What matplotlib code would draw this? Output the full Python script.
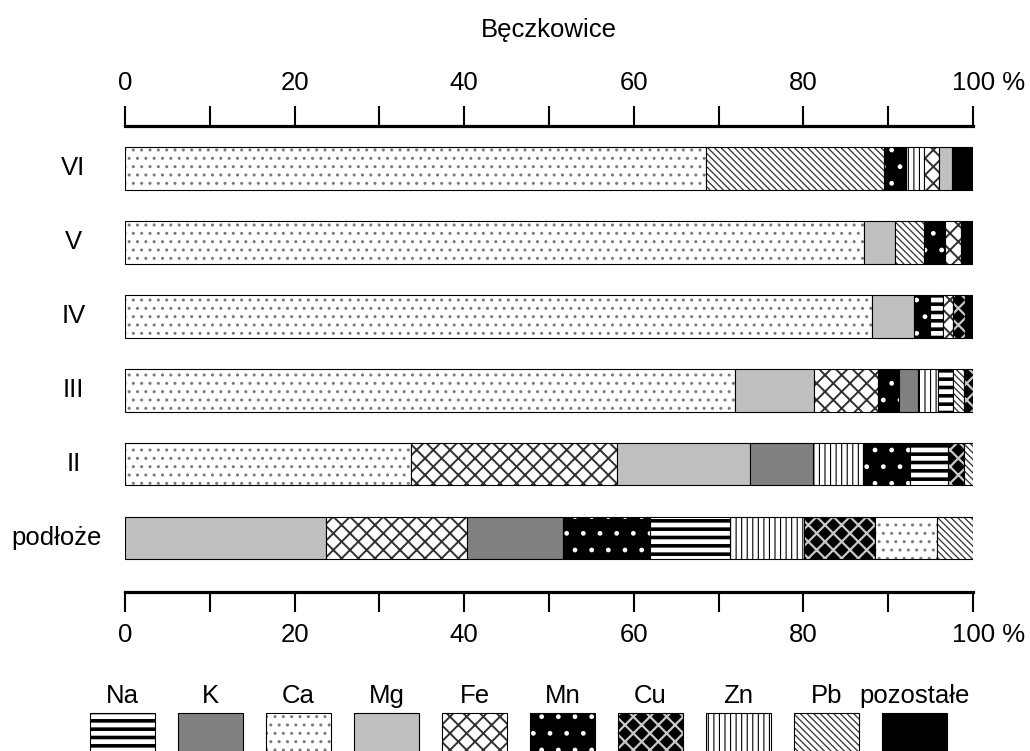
import matplotlib
matplotlib.use("Agg")
import matplotlib.pyplot as plt
import matplotlib.transforms as mtransforms
from matplotlib.patches import Rectangle

plt.rcParams['font.family'] = ['Liberation Sans', 'DejaVu Sans']
plt.rcParams['hatch.linewidth'] = 1.2

# data (percent shares, left to right in each bar)
rows = ["VI", "V", "IV", "III", "II", "podłoże"]

vi_elements = ["Ca", "Pb", "Mn", "Zn", "Fe", "Mg", "pozostałe"]
vi_values = [68.5, 21.0, 2.6, 2.1, 1.8, 1.5, 2.5]

v_elements = ["Ca", "Mg", "Pb", "Mn", "Fe", "pozostałe"]
v_values = [87.1, 3.7, 3.4, 2.5, 1.9, 1.4]

iv_elements = ["Ca", "Mg", "Mn", "Na", "Fe", "Cu", "pozostałe"]
iv_values = [88.1, 4.9, 1.9, 1.6, 1.2, 1.3, 1.0]

iii_elements = ["Ca", "Mg", "Fe", "Mn", "K", "Zn", "Na", "Pb", "Cu"]
iii_values = [71.9, 9.4, 7.5, 2.5, 2.2, 2.4, 1.7, 1.3, 1.1]

ii_elements = ["Ca", "Fe", "Mg", "K", "Zn", "Mn", "Na", "Cu", "Pb"]
ii_values = [33.7, 24.3, 15.7, 7.4, 5.9, 5.6, 4.4, 1.9, 1.1]

base_elements = ["Mg", "Fe", "K", "Mn", "Na", "Zn", "Cu", "Ca", "Pb"]
base_values = [23.7, 16.6, 11.3, 10.3, 9.4, 8.8, 8.3, 7.3, 4.3]

legend_order = ["Na", "K", "Ca", "Mg", "Fe", "Mn", "Cu", "Zn", "Pb", "pozostałe"]

row_elements = [vi_elements, v_elements, iv_elements, iii_elements, ii_elements, base_elements]
row_values = [vi_values, v_values, iv_values, iii_values, ii_values, base_values]

# fill styles: face colour, hatch, hatch colour, hatch line width
styles = {
    "Na": ("white", "--", "black", 2.6),
    "K": ("#808080", None, None, 0),
    "Ca": ("white", "..", "#7a7a7a", 1.0),
    "Mg": ("#c0c0c0", None, None, 0),
    "Fe": ("white", "xx", "#303030", 1.4),
    "Mn": ("black", ".", "white", 1.0),
    "Cu": ("black", "xx", "#c8c8c8", 1.6),
    "Zn": ("white", "|||", "black", 0.8),
    "Pb": ("white", "\\\\\\\\\\", "#303030", 0.9),
    "pozostałe": ("black", None, None, 0),
}

FS = 18.5


def set_hlw(artist, lw):
    if hasattr(artist, "set_hatch_linewidth"):
        artist.set_hatch_linewidth(lw)


def draw_barh(ax, y, width, left, height, name):
    face, hatch, hcolor, hlw = styles[name]
    ax.barh(y, width, left=left, height=height, color=face, edgecolor="none", linewidth=0)
    if hatch:
        hb = ax.barh(y, width, left=left, height=height, color="none",
                     edgecolor=hcolor, hatch=hatch, linewidth=0)
        for p in hb:
            set_hlw(p, hlw)
    ax.barh(y, width, left=left, height=height, fill=False, edgecolor="black", linewidth=0.8)


def draw_box(ax, x, y, w, h, name):
    face, hatch, hcolor, hlw = styles[name]
    ax.add_patch(Rectangle((x, y), w, h, facecolor=face, edgecolor="none", linewidth=0))
    if hatch:
        r = Rectangle((x, y), w, h, facecolor="none", edgecolor=hcolor, hatch=hatch, linewidth=0)
        set_hlw(r, hlw)
        ax.add_patch(r)
    ax.add_patch(Rectangle((x, y), w, h, fill=False, edgecolor="black", linewidth=0.8))


fig = plt.figure(figsize=(10.30, 7.51), dpi=100)
ax = fig.add_axes([125 / 1030, 1 - 592 / 751, 848 / 1030, 466 / 751])

for i, (elems, vals) in enumerate(zip(row_elements, row_values)):
    left = 0.0
    for name, val in zip(elems, vals):
        draw_barh(ax, i, val, left, 0.58, name)
        left += val

ax.set_xlim(0, 100)
ax.set_ylim(5.73, -0.57)
ax.set_yticks([])
ax.set_xticks(range(0, 101, 10))
labels = [str(t) if t % 20 == 0 else "" for t in range(0, 101, 10)]
labels[-1] = "100 %"
ax.set_xticklabels(labels)
ax.tick_params(axis="x", top=True, bottom=True, labeltop=True, labelbottom=True,
               direction="out", length=14.5, width=1.5, pad=8, labelsize=FS)
for side in ["left", "right"]:
    ax.spines[side].set_visible(False)
for side in ["top", "bottom"]:
    ax.spines[side].set_linewidth(2.3)
ax.patch.set_alpha(0)

# "100 %" label shifted so that the number sits on the tick
shift = mtransforms.ScaledTranslation(0.16, 0, fig.dpi_scale_trans)
last = ax.xaxis.get_major_ticks()[-1]
last.label1.set_transform(last.label1.get_transform() + shift)
last.label2.set_transform(last.label2.get_transform() + shift)

for i, name in enumerate(rows):
    if name == "podłoże":
        ax.text(-2.7, i, name, ha="right", va="center", fontsize=FS, clip_on=False)
    else:
        ax.text(-6.1, i, name, ha="center", va="center", fontsize=FS, clip_on=False)

fig.text(549 / 1030, 1 - 37 / 751, "Bęczkowice", ha="center", va="baseline", fontsize=FS)

# legend row
lax = fig.add_axes([0, 0, 1, 1])
lax.set_xlim(0, 1030)
lax.set_ylim(751, 0)
lax.axis("off")
for k, name in enumerate(legend_order):
    x0 = 90 + 88 * k
    draw_box(lax, x0, 713, 65, 60, name)
    lax.text(x0 + 32.5, 703, name, ha="center", va="baseline", fontsize=FS)

fig.savefig("out.png", dpi=100)
